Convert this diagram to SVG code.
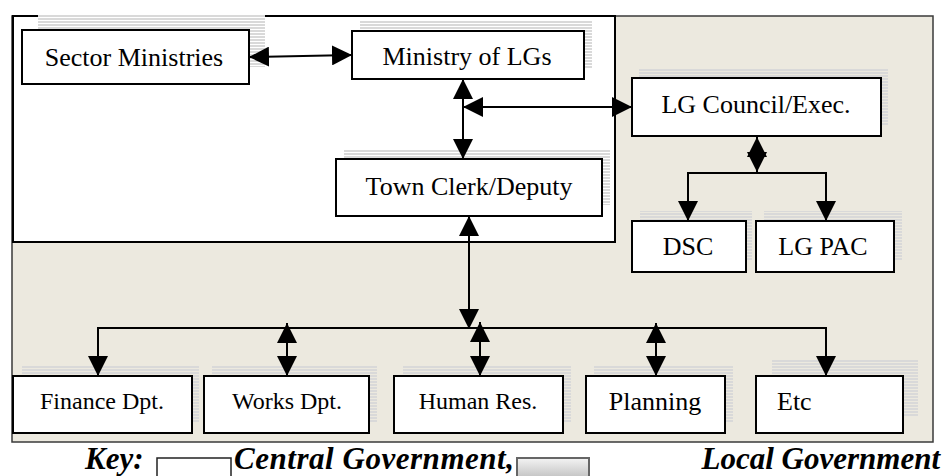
<svg xmlns="http://www.w3.org/2000/svg" width="945" height="476" viewBox="0 0 945 476">
  <defs>
    <style>
      .box { fill: #ffffff; stroke: #000000; stroke-width: 2; }
      .shadow { fill: url(#stripes); }
      text { font-family: "Liberation Serif", "Times New Roman", "DejaVu Serif", serif; }
      .lbl { font-size: 26px; fill: #000000; text-anchor: middle; }
      .lbl.sm { font-size: 24px; }
      .key { font-size: 31px; font-weight: bold; font-style: italic; fill: #000000; }
      .wire { fill: none; stroke: #000000; stroke-width: 2; }
      .two { marker-start: url(#head); marker-end: url(#head); }
      .one { marker-end: url(#head); }
    </style>
    <pattern id="stripes" width="4" height="3" patternUnits="userSpaceOnUse">
      <rect x="0" y="0" width="4" height="2" fill="#d9d9d9"/>
    </pattern>
    <marker id="head" viewBox="0 0 20 20" markerWidth="20" markerHeight="20" refX="20" refY="10" markerUnits="userSpaceOnUse" orient="auto-start-reverse">
      <path d="M0,0 L20,10 L0,20 Z" fill="#000000"/>
    </marker>
    <linearGradient id="lgKey" x1="0" y1="0" x2="0" y2="1">
      <stop offset="0" stop-color="#f4f4f4"/>
      <stop offset="1" stop-color="#a9a9a9"/>
    </linearGradient>
  </defs>

  <!-- local government area -->
  <rect id="local-area" x="12" y="16" width="921" height="426" fill="#ECE9DF" stroke="#3a3a3a" stroke-width="1.5"/>
  <!-- central government area -->
  <rect id="central-area" x="13" y="16" width="602" height="226" fill="#ffffff" stroke="#000000" stroke-width="2"/>

  <g id="sector-ministries">
    <rect class="shadow" x="38" y="15" width="227" height="52"/>
    <rect class="box" x="22" y="30" width="227" height="54"/>
    <text class="lbl" x="134" y="66">Sector Ministries</text>
  </g>

  <g id="ministry-lgs">
    <rect class="shadow" x="360" y="20" width="232" height="48"/>
    <rect class="box" x="352" y="31" width="232" height="48"/>
    <text class="lbl" x="467" y="65">Ministry of LGs</text>
  </g>

  <g id="town-clerk">
    <rect class="shadow" x="344" y="149" width="266" height="56"/>
    <rect class="box" x="336" y="159" width="266" height="57"/>
    <text class="lbl" x="469" y="195">Town Clerk/Deputy</text>
  </g>

  <g id="lg-council">
    <rect class="shadow" x="639" y="68" width="249" height="57"/>
    <rect class="box" x="632" y="78" width="249" height="58"/>
    <text class="lbl" x="756" y="113">LG Council/Exec.</text>
  </g>

  <g id="dsc">
    <rect class="shadow" x="640" y="211" width="112" height="49"/>
    <rect class="box" x="632" y="221" width="114" height="51"/>
    <text class="lbl" x="688" y="255">DSC</text>
  </g>

  <g id="lg-pac">
    <rect class="shadow" x="764" y="211" width="138" height="49"/>
    <rect class="box" x="756" y="221" width="138" height="51"/>
    <text class="lbl" x="823" y="255">LG PAC</text>
  </g>

  <g id="finance">
    <rect class="shadow" x="22" y="365" width="177" height="57"/>
    <rect class="box" x="13" y="376" width="179" height="57"/>
    <text class="lbl sm" x="102" y="409">Finance Dpt.</text>
  </g>

  <g id="works">
    <rect class="shadow" x="212" y="365" width="165" height="57"/>
    <rect class="box" x="204" y="376" width="165" height="57"/>
    <text class="lbl sm" x="287" y="409">Works Dpt.</text>
  </g>

  <g id="human-res">
    <rect class="shadow" x="403" y="365" width="168" height="57"/>
    <rect class="box" x="394" y="376" width="169" height="57"/>
    <text class="lbl sm" x="478" y="409">Human Res.</text>
  </g>

  <g id="planning">
    <rect class="shadow" x="594" y="365" width="139" height="57"/>
    <rect class="box" x="586" y="376" width="139" height="57"/>
    <text class="lbl" x="655" y="410">Planning</text>
  </g>

  <g id="etc">
    <rect class="shadow" x="772" y="360" width="146" height="57"/>
    <rect class="box" x="756" y="376" width="147" height="57"/>
    <text class="lbl" x="777" y="410" style="text-anchor:start">Etc</text>
  </g>

  <g id="connectors">
    <line class="wire two" x1="249" y1="57" x2="352" y2="55"/>
    <line class="wire two" x1="463" y1="79" x2="463" y2="159"/>
    <line class="wire two" x1="463" y1="107" x2="632" y2="107"/>
    <line class="wire two" x1="757" y1="137" x2="757" y2="172"/>
    <polyline class="wire" points="688,201 688,173 826,173 826,201"/>
    <line class="wire one" x1="688" y1="190" x2="688" y2="221"/>
    <line class="wire one" x1="826" y1="190" x2="826" y2="221"/>
    <line class="wire two" x1="469" y1="216" x2="469" y2="329"/>
    <line class="wire" x1="97" y1="328" x2="826" y2="328"/>
    <line class="wire one" x1="98" y1="327" x2="98" y2="376"/>
    <line class="wire two" x1="287" y1="323" x2="287" y2="376"/>
    <line class="wire two" x1="480" y1="322" x2="480" y2="376"/>
    <line class="wire two" x1="656" y1="323" x2="656" y2="376"/>
    <line class="wire one" x1="826" y1="327" x2="826" y2="376"/>
  </g>

  <g id="key">
    <text class="key" x="85" y="468.5">Key:</text>
    <rect x="157" y="458" width="74" height="30" fill="#ffffff" stroke="#222222" stroke-width="1.5"/>
    <text class="key" x="234" y="468.5" textLength="280" lengthAdjust="spacing">Central Government,</text>
    <rect x="517" y="458" width="72" height="30" fill="url(#lgKey)" stroke="#666666" stroke-width="2"/>
    <text class="key" x="940" y="468.5" text-anchor="end">Local Government</text>
  </g>
</svg>
